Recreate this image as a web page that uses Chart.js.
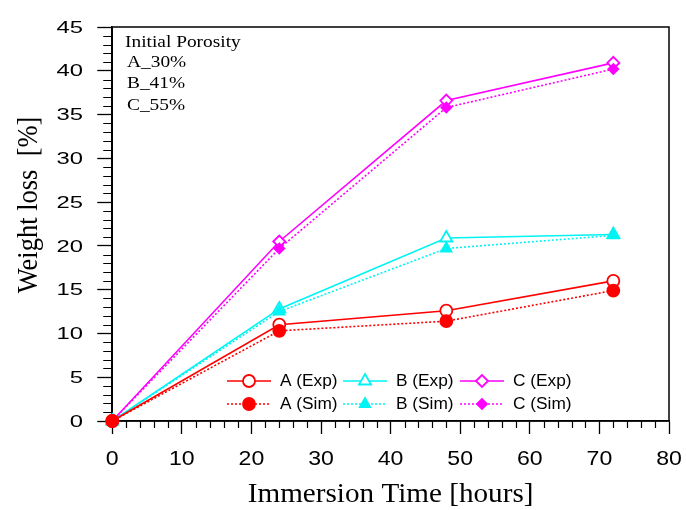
<!DOCTYPE html>
<html><head><meta charset="utf-8">
<script src="https://cdn.jsdelivr.net/npm/chart.js@4"></script>
<style>html,body{margin:0;padding:0;background:#fff}#wrap{width:686px;height:510px}</style>
</head><body><div id="wrap"><canvas id="c" width="686" height="510"></canvas></div>
<script>
const hours = [0, 24, 48, 72];
const aExp = [0, 11.0, 12.6, 16.0];
const aSim = [0, 10.3, 11.4, 14.9];
const bExp = [0, 12.8, 20.9, 21.3];
const bSim = [0, 12.5, 19.7, 21.2];
const cExp = [0, 20.5, 36.6, 40.9];
const cSim = [0, 19.7, 35.8, 40.2];
const seriesNames = ['A (Exp)', 'B (Exp)', 'C (Exp)', 'A (Sim)', 'B (Sim)', 'C (Sim)'];
const noteLines = ['Initial Porosity', 'A_30%', 'B_41%', 'C_55%'];
const xTitle = 'Immersion Time [hours]';
const yTitle = 'Weight loss  [%]';

const RED = '#ff0000', CYAN = '#00f4f4', MAG = '#ff00ff';
const pts = arr => hours.map((h, i) => ({x: h, y: arr[i]}));

function ds(label, arr, color, style, filled, dashed, r, order) {
  return {
    label, data: pts(arr), showLine: true, borderColor: color,
    backgroundColor: filled ? color : '#fff', pointBorderColor: color,
    pointBackgroundColor: filled ? color : '#fff',
    pointStyle: style, pointRadius: r, pointHoverRadius: r,
    pointBorderWidth: 1.8, borderWidth: 1.6,
    borderDash: dashed ? [2, 2] : [], fill: false, clip: false, order
  };
}
const datasets = [
  ds(seriesNames[0], aExp, RED, 'circle', false, false, 6, 2),
  ds(seriesNames[1], bExp, CYAN, 'triangle', false, false, 7, 4),
  ds(seriesNames[2], cExp, MAG, 'rectRot', false, false, 6, 6),
  ds(seriesNames[3], aSim, RED, 'circle', true, true, 6, 1),
  ds(seriesNames[4], bSim, CYAN, 'triangle', true, true, 6, 3),
  ds(seriesNames[5], cSim, MAG, 'rectRot', true, true, 5, 5),
];

function stretchedText(ctx, text, x, y, sx, align) {
  ctx.save();
  ctx.translate(x, y);
  ctx.scale(sx, 1);
  ctx.textAlign = align;
  ctx.fillText(text, 0, 0);
  ctx.restore();
}

const frameAndTicks = {
  id: 'frameAndTicks',
  beforeDatasetsDraw(chart) {
    const {ctx, chartArea: a, scales: {x, y}} = chart;
    ctx.save();
    ctx.strokeStyle = '#000';
    ctx.lineWidth = 1.5;
    ctx.strokeRect(a.left, a.top, a.right - a.left, a.bottom - a.top);
    ctx.lineWidth = 1.2;
    ctx.beginPath();
    for (let v = 0; v <= 80; v += 2) {
      if (v % 10 === 0) continue;
      const px = Math.round(x.getPixelForValue(v)) + 0.5;
      ctx.moveTo(px, a.bottom); ctx.lineTo(px, a.bottom + 7);
    }
    for (let v = 0; v <= 45; v += 1) {
      if (v % 5 === 0) continue;
      const py = Math.round(y.getPixelForValue(v)) + 0.5;
      ctx.moveTo(a.left, py); ctx.lineTo(a.left - 9, py);
    }
    ctx.stroke();
    // tick labels
    ctx.fillStyle = '#000';
    ctx.textBaseline = 'middle';
    ctx.font = '17px "Liberation Sans"';
    y.ticks.forEach(t => {
      stretchedText(ctx, String(t.value), 83, y.getPixelForValue(t.value) + 1, 1.4, 'right');
    });
    ctx.font = '21px "Liberation Sans"';
    x.ticks.forEach(t => {
      stretchedText(ctx, String(t.value), x.getPixelForValue(t.value), 459, 1.1, 'center');
    });
    // axis titles
    ctx.font = '27px "Liberation Serif"';
    stretchedText(ctx, xTitle, (a.left + a.right) / 2 - 0, 495, 1.08, 'center');
    ctx.save();
    ctx.translate(29, 205);
    ctx.rotate(-Math.PI / 2);
    ctx.scale(1, 1.15);
    ctx.font = '26.5px "Liberation Serif"';
    ctx.textAlign = 'center';
    ctx.fillText(yTitle, 0, 0);
    ctx.restore();
    ctx.restore();
  }
};

const customLegend = {
  id: 'customLegend',
  afterDatasetsDraw(chart) {
    const {ctx} = chart;
    ctx.save();
    ctx.fillStyle = '#000';
    ctx.font = '17px "Liberation Serif"';
    ctx.textBaseline = 'middle';
    const nx = [125, 127, 127, 127], ny = [43, 63, 84, 106];
    noteLines.forEach((t, i) => stretchedText(ctx, t, nx[i], ny[i], 1.14, 'left'));
    const colX = [227, 343, 460];
    const rowY = [381, 404];
    chart.data.datasets.forEach((d, i) => {
      const col = i % 3, row = Math.floor(i / 3);
      const x0 = colX[col], yy = rowY[row];
      ctx.strokeStyle = d.borderColor;
      ctx.lineWidth = d.borderWidth;
      ctx.setLineDash(d.borderDash);
      ctx.beginPath(); ctx.moveTo(x0, yy); ctx.lineTo(x0 + 44, yy); ctx.stroke();
      ctx.setLineDash([]);
      ctx.fillStyle = d.pointBackgroundColor; ctx.strokeStyle = d.pointBorderColor;
      ctx.lineWidth = d.pointBorderWidth;
      Chart.helpers.drawPoint(ctx, {pointStyle: d.pointStyle, radius: d.pointRadius, borderWidth: d.pointBorderWidth, rotation: 0}, x0 + 22, yy);
      ctx.fillStyle = '#000';
      ctx.font = '16px "Liberation Sans"';
      stretchedText(ctx, d.label, x0 + 53, yy + 1, 1.08, 'left');
    });
    ctx.restore();
  }
};

const HIDDEN = 'rgba(0,0,0,0)';
new Chart(document.getElementById('c'), {
  type: 'scatter',
  data: {datasets},
  options: {
    responsive: false, animation: false,
    layout: {padding: {top: 27, right: 17, left: 9, bottom: 0}},
    plugins: {legend: {display: false}, tooltip: {enabled: false}},
    scales: {
      x: {
        type: 'linear', min: 0, max: 80,
        afterFit(s) { s.paddingRight = 0; s.paddingLeft = 0; },
        ticks: {stepSize: 10, color: HIDDEN, font: {family: 'Liberation Sans', size: 20}, padding: 11},
        grid: {drawOnChartArea: false, tickLength: 13, tickColor: '#000', tickWidth: 1.3},
        border: {display: true, color: '#000', width: 1.5},
        title: {display: true, text: xTitle, color: HIDDEN, font: {family: 'Liberation Serif', size: 25}, padding: {top: 0, bottom: 0}}
      },
      y: {
        type: 'linear', min: 0, max: 45,
        afterFit(s) { s.paddingTop = 0; s.paddingBottom = 0; },
        ticks: {stepSize: 5, color: HIDDEN, font: {family: 'Liberation Sans', size: 20}, padding: 5},
        grid: {drawOnChartArea: false, tickLength: 15, tickColor: '#000', tickWidth: 1.3},
        border: {display: true, color: '#000', width: 1.5},
        title: {display: true, text: yTitle, color: HIDDEN, font: {family: 'Liberation Serif', size: 25}, padding: {top: 0, bottom: 26}}
      }
    }
  },
  plugins: [frameAndTicks, customLegend]
});
</script></body></html>
